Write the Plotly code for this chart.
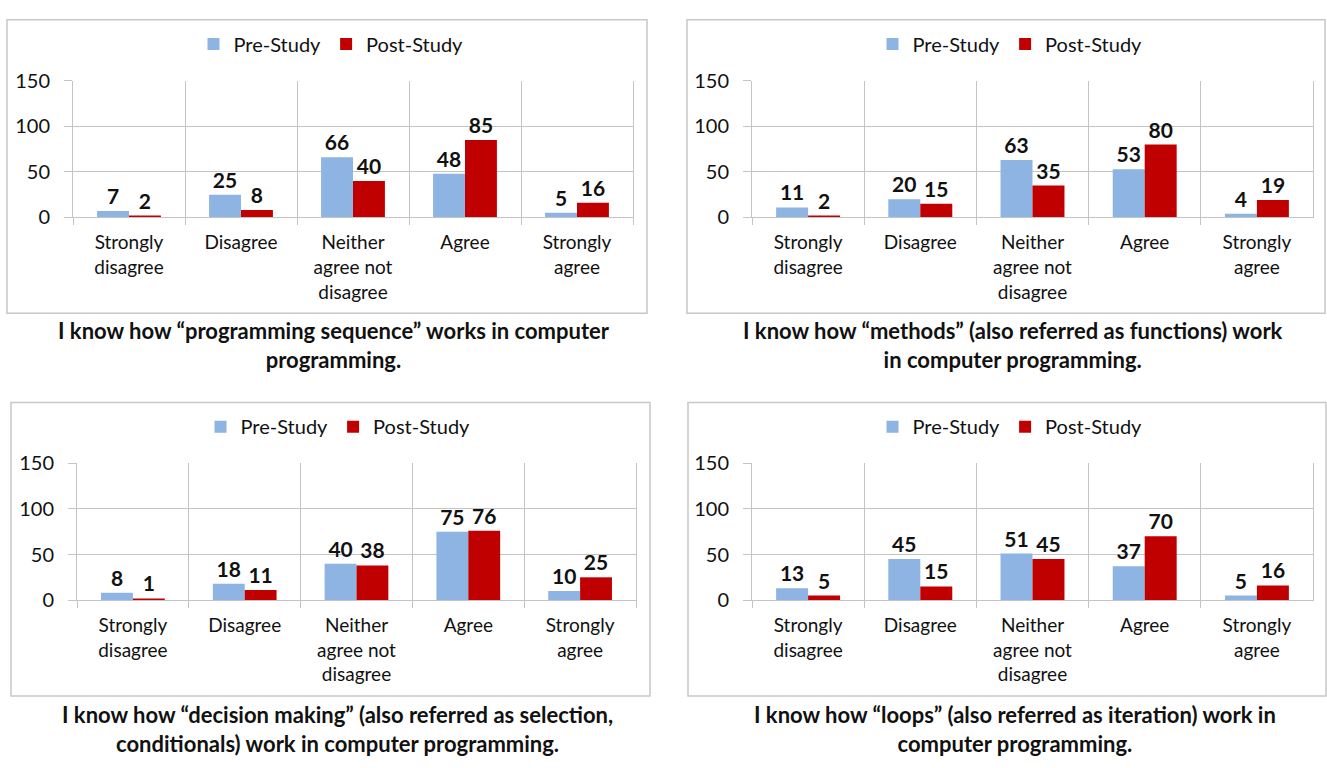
import plotly.graph_objects as go

# Likert response categories shared by all four survey items
categories = ["Strongly<br>disagree", "Disagree", "Neither<br>agree not<br>disagree",
              "Agree", "Strongly<br>agree"]
tick_values = [0, 50, 100, 150]

# Response counts per item
seq_pre = [7, 25, 66, 48, 5]
seq_post = [2, 8, 40, 85, 16]
methods_pre = [11, 20, 63, 53, 4]
methods_post = [2, 15, 35, 80, 19]
decision_pre = [8, 18, 40, 75, 10]
decision_post = [1, 11, 38, 76, 25]
loops_pre = [13, 45, 51, 37, 5]
loops_post = [5, 15, 45, 70, 16]

captions = [
    "I know how “programming sequence” works in computer<br>programming.",
    "I know how “methods” (also referred as functions) work<br>in computer programming.",
    "I know how “decision making” (also referred as selection,<br>conditionals) work in computer programming.",
    "I know how “loops” (also referred as iteration) work in<br>computer programming.",
]

W, H = 1327, 768
FONT = "Lato"
TXT = "#111111"
PRE_C = "#8DB4E2"
POST_C = "#C00000"
GRID_C = "#C4C4C4"
BOX_C = "#C8C8C8"

panels = [
    dict(pre=seq_pre, post=seq_post, plot=(73, 633, 70, 211), box=(7, 647, 7, 310),
         legend=(331, 32), cap=(334, 343)),
    dict(pre=methods_pre, post=methods_post, plot=(752, 1313, 70, 211), box=(687, 1325, 7, 310),
         legend=(1010, 32), cap=(1013, 343)),
    dict(pre=decision_pre, post=decision_post, plot=(77, 636, 465, 606), box=(11, 650, 402, 705),
         legend=(338, 427), cap=(337, 739)),
    dict(pre=loops_pre, post=loops_post, plot=(752, 1313, 465, 606), box=(688, 1326, 402, 705),
         legend=(1010, 427), cap=(1015, 739)),
]


def px(x):
    return x / W


def py(y):
    return 1 - y / H


fig = go.Figure()
shapes = []
annotations = []
layout = {}

for i, p in enumerate(panels):
    n = "" if i == 0 else str(i + 1)
    xa, ya = "x" + n, "y" + n
    leg = "legend" + n
    for name, vals, color in (("Pre-Study", p["pre"], PRE_C), ("Post-Study", p["post"], POST_C)):
        fig.add_trace(go.Bar(
            x=categories, y=vals, name=name, marker=dict(color=color, line=dict(width=0)),
            text=vals, textposition="outside", cliponaxis=False, constraintext="none",
            textfont=dict(family=FONT, size=21, color=TXT, weight="bold"),
            xaxis=xa, yaxis=ya, legend=leg, hoverinfo="x+y+name",
        ))
    x0, x1, y0, y1 = p["plot"]
    layout["xaxis" + n] = dict(
        domain=[px(x0), px(x1)], anchor=ya, type="category", tickson="boundaries",
        ticks="outside", ticklen=7, tickcolor=GRID_C, showgrid=True, gridcolor=GRID_C,
        showline=True, linecolor=GRID_C, linewidth=1, range=[-0.5, 4.5],
        tickfont=dict(family=FONT, size=19, color=TXT), ticklabelstandoff=8,
        fixedrange=True,
    )
    layout["yaxis" + n] = dict(
        domain=[py(y1), py(y0)], anchor=xa, range=[0, 150], tickvals=tick_values,
        ticks="outside", ticklen=8, tickcolor=GRID_C, showgrid=True, gridcolor=GRID_C,
        showline=True, linecolor=GRID_C, mirror=True, zeroline=False,
        tickfont=dict(family=FONT, size=20, color=TXT), ticklabelstandoff=10,
        fixedrange=True,
    )
    lx, ly = p["legend"]
    layout[leg] = dict(
        orientation="h", x=px(lx), y=py(ly), xanchor="center", yanchor="middle",
        font=dict(family=FONT, size=20, color=TXT), bgcolor="rgba(0,0,0,0)",
        itemclick=False, itemdoubleclick=False, traceorder="normal", itemwidth=30,
    )
    bx0, bx1, by0, by1 = p["box"]
    shapes.append(dict(type="rect", xref="paper", yref="paper", x0=px(bx0), x1=px(bx1),
                       y0=py(by1), y1=py(by0), line=dict(color=BOX_C, width=1.5),
                       fillcolor="rgba(0,0,0,0)", layer="below"))
    cx, cy = p["cap"]
    annotations.append(dict(xref="paper", yref="paper", x=px(cx), y=py(cy), xanchor="center",
                            yanchor="middle", showarrow=False, text=captions[i], align="center",
                            font=dict(family=FONT, size=22, color=TXT, weight="bold")))

fig.update_layout(
    width=W, height=H, margin=dict(l=0, r=0, t=0, b=0),
    paper_bgcolor="white", plot_bgcolor="white",
    barmode="group", bargap=0.43, bargroupgap=0,
    shapes=shapes, annotations=annotations, showlegend=True,
    **layout,
)

fig.write_html("out.html", config={"displayModeBar": False})
